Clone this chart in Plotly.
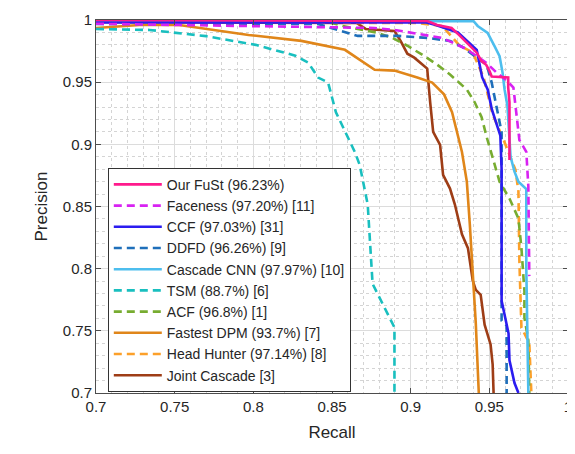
import plotly.graph_objects as go

# ---- data (recall, precision) ----
fust_r = [0.70, 0.9105, 0.9168, 0.926, 0.9307, 0.9357, 0.942, 0.945, 0.948, 0.950, 0.9515, 0.962, 0.962, 0.9628, 0.9628]
fust_p = [1.000, 0.9992, 0.996, 0.9936, 0.988, 0.9817, 0.9737, 0.967, 0.964, 0.9593, 0.9545, 0.9537, 0.9457, 0.9338, 0.8875]

face_r = [0.70, 0.877, 0.8897, 0.920, 0.935, 0.948, 0.9546, 0.961, 0.9653, 0.9691, 0.9735, 0.9748, 0.9754]
face_p = [0.997, 0.9936, 0.992, 0.9856, 0.977, 0.9657, 0.9577, 0.9513, 0.9457, 0.9035, 0.894, 0.866, 0.794]

ccf_r = [0.70, 0.910, 0.916, 0.930, 0.942, 0.9435, 0.9454, 0.949, 0.9516, 0.957, 0.9578, 0.9578, 0.9622, 0.9628, 0.966, 0.9685]
ccf_p = [0.998, 0.998, 0.996, 0.990, 0.976, 0.966, 0.954, 0.944, 0.928, 0.907, 0.880, 0.7742, 0.748, 0.7263, 0.708, 0.700]

ddfd_r = [0.70, 0.8412, 0.8538, 0.8664, 0.8916, 0.9105, 0.925, 0.9326, 0.942, 0.9483, 0.9515, 0.9546, 0.9578, 0.9578, 0.961, 0.961]
ddfd_p = [0.9968, 0.9968, 0.992, 0.9872, 0.9872, 0.9856, 0.9832, 0.9785, 0.9697, 0.9641, 0.9497, 0.9298, 0.9098, 0.7582, 0.7543, 0.700]

ccnn_r = [0.70, 0.940, 0.9426, 0.9489, 0.9533, 0.9565, 0.9584, 0.9597, 0.9615, 0.9628, 0.9635, 0.966, 0.9685, 0.9735, 0.9735, 0.9748]
ccnn_p = [0.999, 0.999, 0.9952, 0.9896, 0.979, 0.971, 0.9577, 0.944, 0.931, 0.9019, 0.890, 0.878, 0.870, 0.864, 0.800, 0.700]

tsm_r = [0.70, 0.734, 0.770, 0.8015, 0.8267, 0.8349, 0.8412, 0.8475, 0.8525, 0.8645, 0.8676, 0.8727, 0.8758, 0.8853, 0.8897, 0.8897]
tsm_p = [0.9928, 0.992, 0.987, 0.980, 0.9713, 0.9657, 0.9537, 0.9497, 0.9258, 0.8939, 0.8835, 0.8516, 0.7878, 0.7638, 0.7527, 0.700]

acf_r = [0.70, 0.8475, 0.8569, 0.8683, 0.879, 0.8884, 0.8979, 0.9073, 0.9168, 0.925, 0.9357, 0.9407, 0.9451, 0.9483, 0.9565, 0.9628, 0.9685, 0.9704, 0.9723, 0.9723, 0.9748, 0.9754]
acf_p = [0.9984, 0.9984, 0.9952, 0.992, 0.9896, 0.9856, 0.9793, 0.9721, 0.9641, 0.9561, 0.9441, 0.9338, 0.9218, 0.9059, 0.870, 0.8564, 0.8404, 0.8165, 0.7822, 0.7606, 0.7423, 0.700]

dpm_r = [0.70, 0.7277, 0.7529, 0.780, 0.797, 0.8305, 0.8582, 0.8771, 0.8897, 0.9042, 0.9137, 0.9212, 0.9263, 0.9326, 0.9357, 0.9376, 0.9395, 0.9414, 0.9433]
dpm_p = [0.9936, 0.996, 0.996, 0.9912, 0.988, 0.9832, 0.976, 0.960, 0.9593, 0.9537, 0.9497, 0.9402, 0.9258, 0.8939, 0.870, 0.8356, 0.7957, 0.7559, 0.700]

hh_r = [0.70, 0.9042, 0.920, 0.9307, 0.9395, 0.9464, 0.9521, 0.9596, 0.9666, 0.9685, 0.9691, 0.9704, 0.9754, 0.9767]
hh_p = [0.9976, 0.9976, 0.9952, 0.980, 0.9737, 0.9537, 0.9242, 0.9019, 0.8795, 0.862, 0.8061, 0.7527, 0.740, 0.700]

jc_r = [0.70, 0.8657, 0.8714, 0.8897, 0.8935, 0.8979, 0.9023, 0.9105, 0.9124, 0.9143, 0.9187, 0.9206, 0.925, 0.9281, 0.9326, 0.9364, 0.9395, 0.9414, 0.9445, 0.947, 0.9508, 0.9521, 0.9527]
jc_p = [0.9984, 0.9976, 0.9928, 0.9912, 0.9833, 0.9729, 0.9697, 0.9609, 0.9338, 0.910, 0.8995, 0.8755, 0.8644, 0.8516, 0.8277, 0.8165, 0.7901, 0.783, 0.779, 0.7550, 0.7391, 0.7231, 0.700]

names = ["Our FuSt (96.23%)", "Faceness (97.20%) [11]", "CCF (97.03%) [31]", "DDFD (96.26%) [9]",
         "Cascade CNN (97.97%) [10]", "TSM (88.7%) [6]", "ACF (96.8%) [1]", "Fastest DPM (93.7%) [7]",
         "Head Hunter (97.14%) [8]", "Joint Cascade [3]"]
series = [(fust_r, fust_p), (face_r, face_p), (ccf_r, ccf_p), (ddfd_r, ddfd_p), (ccnn_r, ccnn_p),
          (tsm_r, tsm_p), (acf_r, acf_p), (dpm_r, dpm_p), (hh_r, hh_p), (jc_r, jc_p)]
colors = ["#ff1a8c", "#d822f2", "#2b1cf0", "#1f6fba", "#4dbeee", "#19bfbf", "#77ac30", "#e0861a", "#fca02a", "#9e3d16"]
dashes = ["solid", "8px,5px", "solid", "8px,5px", "solid", "8px,5px", "8px,5px", "solid", "8px,5px", "solid"]

fig = go.Figure()
for i in reversed(range(len(names))):
    r, p = series[i]
    fig.add_trace(go.Scatter(x=r, y=p, mode="lines", name=names[i],
                             line=dict(color=colors[i], width=2.6, dash=dashes[i])))

FONT = "Liberation Sans, Arial"
axis_common = dict(
    showgrid=True, gridcolor="#dcdcdc", gridwidth=1,
    showline=True, linecolor="#4d4d4d", linewidth=1, mirror="allticks",
    ticks="inside", ticklen=5, tickcolor="#4d4d4d",
    tickfont=dict(family=FONT, size=15, color="#262626"),
    zeroline=False, ticklabeloverflow="allow",
    minor=dict(dtick=0.01, showgrid=True, gridcolor="#d4d4d4", griddash="dot", gridwidth=1),
)
ticks = [0.7, 0.75, 0.8, 0.85, 0.9, 0.95, 1.0]
tick_text = ["0.7", "0.75", "0.8", "0.85", "0.9", "0.95", "1"]
fig.update_xaxes(range=[0.7, 1.0], tickvals=ticks, ticktext=tick_text,
                 title=dict(text="Recall", font=dict(family=FONT, size=17, color="#262626"), standoff=12),
                 **axis_common)
fig.update_yaxes(range=[0.7, 1.0], tickvals=ticks, ticktext=tick_text,
                 title=dict(text="Precision", font=dict(family=FONT, size=17, color="#262626"), standoff=10),
                 **axis_common)

# page body has an 8px margin, so the figure is sized to fit the 575x454 window
fig.update_layout(
    width=567, height=446,
    margin=dict(l=88, r=3, t=9, b=61),
    plot_bgcolor="white", paper_bgcolor="white",
    legend=dict(x=0.025, y=0.6037, xanchor="left", yanchor="top",
                traceorder="reversed", bgcolor="white", bordercolor="#333333", borderwidth=1,
                font=dict(family=FONT, size=14, color="#262626"),
                itemwidth=48, tracegroupgap=0),
    showlegend=True,
)

fig.write_html("out.html")
